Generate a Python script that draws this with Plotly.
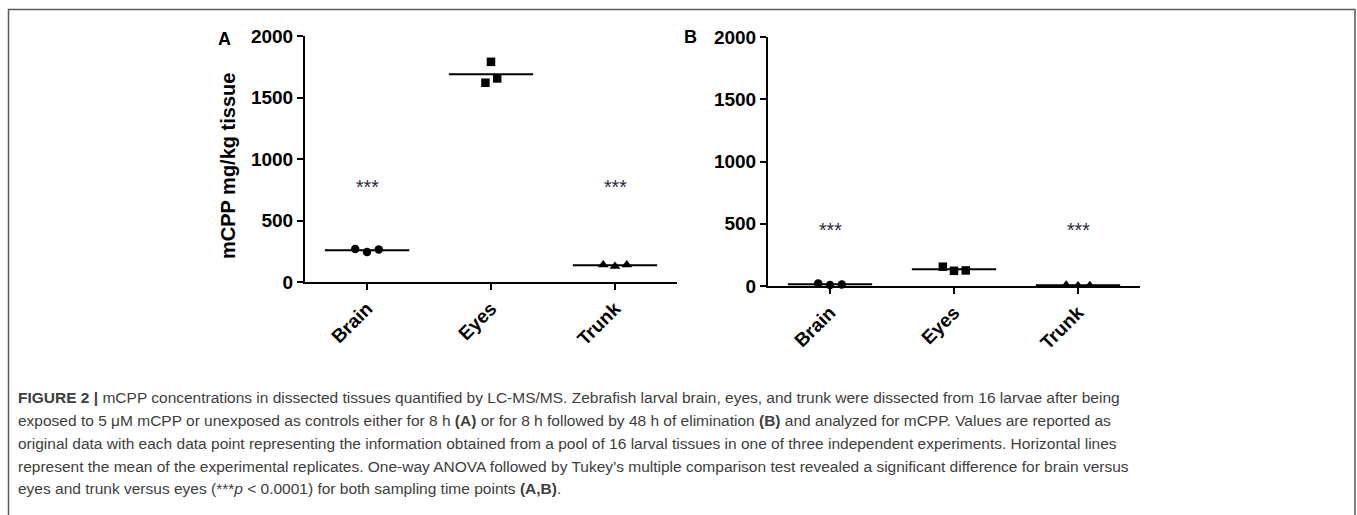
import plotly.graph_objects as go

# ---------------- data ----------------
categories = ["Brain", "Eyes", "Trunk"]

# Panel A: 8 h exposure
a_brain = [268, 243, 265]
a_eyes = [1620, 1790, 1655]
a_trunk = [140, 128, 140]

# Panel B: 8 h exposure + 48 h elimination
b_brain = [20, 8, 12]
b_eyes = [155, 122, 125]
b_trunk = [8, 3, 5]

# significance marks (category, height in mg/kg)
stars_a = [("Brain", 800), ("Trunk", 800)]
stars_b = [("Brain", 470), ("Trunk", 470)]

y_ticks = [0, 500, 1000, 1500, 2000]

caption_lines = [
    "<b>FIGURE 2 |</b> mCPP concentrations in dissected tissues quantified by LC-MS/MS. Zebrafish larval brain, eyes, and trunk were dissected from 16 larvae after being",
    "exposed to 5 \u03bcM mCPP or unexposed as controls either for 8 h <b>(A)</b> or for 8 h followed by 48 h of elimination <b>(B)</b> and analyzed for mCPP. Values are reported as",
    "original data with each data point representing the information obtained from a pool of 16 larval tissues in one of three independent experiments. Horizontal lines",
    "represent the mean of the experimental replicates. One-way ANOVA followed by Tukey\u2019s multiple comparison test revealed a significant difference for brain versus",
    "eyes and trunk versus eyes (***<i>p</i> &lt; 0.0001) for both sampling time points <b>(A,B)</b>.",
]

# ---------------- styles ----------------
W, H = 1357, 515
FONT = "Liberation Sans, Arial, sans-serif"
symbols = {"Brain": "circle", "Eyes": "square", "Trunk": "triangle-up"}
msize = {"Brain": 8.5, "Eyes": 8.5, "Trunk": 9.5}
jitter_a = {"Brain": [-0.095, 0, 0.095], "Eyes": [-0.045, 0, 0.05], "Trunk": [-0.095, 0, 0.095]}
jitter_b = {"Brain": [-0.095, 0, 0.095], "Eyes": [-0.09, 0, 0.095], "Trunk": [-0.095, 0, 0.095]}
MEAN_HALF = 0.34


def px_x(p):
    return p / W


def px_y(p):
    return 1 - p / H


fig = go.Figure()

panels = [
    ("x", "y", {"Brain": a_brain, "Eyes": a_eyes, "Trunk": a_trunk}, jitter_a, stars_a),
    ("x2", "y2", {"Brain": b_brain, "Eyes": b_eyes, "Trunk": b_trunk}, jitter_b, stars_b),
]

for xa, ya, data, jit, stars in panels:
    for i, cat in enumerate(categories):
        vals = data[cat]
        mean = sum(vals) / len(vals)
        fig.add_trace(go.Scatter(
            x=[i - MEAN_HALF, i + MEAN_HALF], y=[mean, mean], mode="lines",
            line=dict(color="black", width=2), xaxis=xa, yaxis=ya,
            showlegend=False, hoverinfo="skip", cliponaxis=False))
        fig.add_trace(go.Scatter(
            x=[i + d for d in jit[cat]], y=vals, mode="markers",
            marker=dict(symbol=symbols[cat], size=msize[cat], color="black"),
            xaxis=xa, yaxis=ya, showlegend=False, cliponaxis=False, name=cat))
    for cat, yv in stars:
        fig.add_annotation(x=categories.index(cat), y=yv, xref=xa, yref=ya,
                           text="***", showarrow=False, yanchor="middle", yshift=-3,
                           font=dict(family=FONT, size=19.5, color="#2b2b3b"))

axis_common = dict(showline=True, linecolor="black", linewidth=2, ticks="outside",
                   ticklen=6, tickwidth=2, tickcolor="black", showgrid=False, zeroline=False,
                   automargin=False,
                   tickfont=dict(family=FONT, size=19, color="black", weight="bold"))

fig.update_layout(
    template="none",
    width=W, height=H, autosize=False, margin=dict(l=0, r=0, t=0, b=0, pad=0),
    paper_bgcolor="white", plot_bgcolor="white", showlegend=False,
    xaxis=dict(domain=[px_x(305), px_x(677)], range=[-0.5, 2.5], anchor="y",
               tickvals=[0, 1, 2], ticktext=categories, tickangle=-45, **axis_common),
    yaxis=dict(domain=[px_y(282), px_y(36)], range=[0, 2000], anchor="x",
               tickvals=y_ticks, **axis_common),
    xaxis2=dict(domain=[px_x(768), px_x(1140)], range=[-0.5, 2.5], anchor="y2",
                tickvals=[0, 1, 2], ticktext=categories, tickangle=-45, **axis_common),
    yaxis2=dict(domain=[px_y(286), px_y(37)], range=[0, 2000], anchor="x2",
                tickvals=y_ticks, **axis_common),
)

# y-axis title (panel A)
fig.add_annotation(x=px_x(228), y=px_y(166), xref="paper", yref="paper",
                   text="<b>mCPP mg/kg tissue</b>", textangle=-90, showarrow=False,
                   xanchor="center", yanchor="middle",
                   font=dict(family=FONT, size=20, color="black"))

# panel letters
fig.add_annotation(x=px_x(224.5), y=px_y(38.5), xref="paper", yref="paper", text="<b>A</b>",
                   showarrow=False, xanchor="center", yanchor="middle",
                   font=dict(family=FONT, size=18, color="black"))
fig.add_annotation(x=px_x(690), y=px_y(37.5), xref="paper", yref="paper", text="<b>B</b>",
                   showarrow=False, xanchor="center", yanchor="middle",
                   font=dict(family=FONT, size=18, color="black"))

# caption
line_y = [397, 420, 443, 466, 488]
for txt, yy in zip(caption_lines, line_y):
    fig.add_annotation(x=px_x(16), y=px_y(yy), xref="paper", yref="paper", text=txt,
                       showarrow=False, xanchor="left", yanchor="middle", align="left",
                       font=dict(family=FONT, size=15.5, color="#3d3d3d"))

# outer frame
fig.add_shape(type="rect", xref="paper", yref="paper",
              x0=px_x(8.5), x1=px_x(1355), y0=px_y(530), y1=px_y(9.5),
              line=dict(color="#5a5a5a", width=1.5), fillcolor="rgba(0,0,0,0)", layer="below")

fig.write_html("out.html",
               config={"displayModeBar": False, "responsive": False},
               post_script="document.body.style.margin='0';document.body.style.overflow='hidden';")
